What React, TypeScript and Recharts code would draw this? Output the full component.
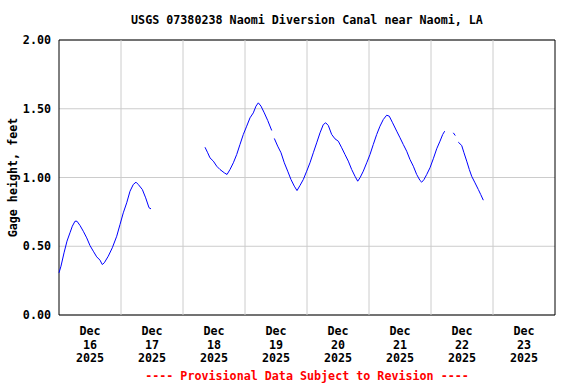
import { LineChart, Line, XAxis, YAxis, CartesianGrid, ReferenceLine, ReferenceArea } from 'recharts'

const FONT = '"DejaVu Sans Mono", monospace'

// x = days since Dec 16 2025 00:00
const dayTicks = [0.5, 1.5, 2.5, 3.5, 4.5, 5.5, 6.5, 7.5]
const dayLabels = ['16', '17', '18', '19', '20', '21', '22', '23']
const midnights = [1, 2, 3, 4, 5, 6, 7]
const heightTicks = [0, 0.5, 1, 1.5, 2]

const days1 = [0, 0.032, 0.081, 0.129, 0.177, 0.215, 0.258, 0.29, 0.339, 0.392, 0.447, 0.5, 0.553, 0.608, 0.661, 0.698, 0.731, 0.795, 0.86, 0.931, 0.984, 1.037, 1.092, 1.145, 1.198, 1.242, 1.279, 1.344, 1.398, 1.452, 1.484]
const gage1 = [0.307, 0.355, 0.452, 0.537, 0.598, 0.646, 0.682, 0.682, 0.651, 0.609, 0.561, 0.505, 0.464, 0.423, 0.399, 0.367, 0.38, 0.428, 0.489, 0.573, 0.658, 0.743, 0.816, 0.9, 0.949, 0.966, 0.949, 0.913, 0.852, 0.78, 0.772]

const days2 = [2.355, 2.398, 2.435, 2.489, 2.544, 2.597, 2.666, 2.71, 2.758, 2.812, 2.866, 2.919, 2.973, 3.027, 3.081, 3.134, 3.177, 3.215, 3.258, 3.311, 3.366, 3.431]
const gage2 = [1.22, 1.18, 1.143, 1.119, 1.082, 1.058, 1.034, 1.022, 1.058, 1.107, 1.167, 1.24, 1.313, 1.373, 1.434, 1.47, 1.519, 1.543, 1.519, 1.47, 1.415, 1.342]

const days3 = [3.473, 3.527, 3.581, 3.634, 3.689, 3.742, 3.795, 3.839, 3.887, 3.94, 3.995, 4.048, 4.102, 4.156, 4.21, 4.263, 4.302, 4.344, 4.398, 4.452, 4.505, 4.56, 4.613, 4.666, 4.721, 4.774, 4.818, 4.855, 4.908, 4.963, 5.016, 5.069, 5.124, 5.177, 5.231, 5.285, 5.327, 5.376, 5.447, 5.5, 5.553, 5.608, 5.661, 5.715, 5.769, 5.823, 5.85, 5.887, 5.931, 5.984, 6.037, 6.092, 6.145, 6.189, 6.221]
const gage3 = [1.284, 1.228, 1.18, 1.107, 1.046, 0.985, 0.937, 0.905, 0.942, 0.985, 1.046, 1.107, 1.18, 1.252, 1.325, 1.385, 1.398, 1.378, 1.313, 1.281, 1.264, 1.216, 1.167, 1.119, 1.058, 1.009, 0.973, 0.998, 1.046, 1.107, 1.167, 1.24, 1.313, 1.373, 1.422, 1.453, 1.446, 1.402, 1.337, 1.289, 1.24, 1.191, 1.131, 1.082, 1.022, 0.978, 0.966, 0.985, 1.022, 1.071, 1.136, 1.209, 1.264, 1.313, 1.337]

const days4 = [6.36, 6.392]
const gage4 = [1.325, 1.305]

const days5 = [6.44, 6.495, 6.532, 6.576, 6.618, 6.656, 6.71, 6.763, 6.802, 6.844]
const gage5 = [1.257, 1.233, 1.18, 1.119, 1.058, 1.009, 0.961, 0.913, 0.876, 0.835]

// join segments, with a null point in each gap so the line breaks
const segments: [number[], number[]][] = [[days1, gage1], [days2, gage2], [days3, gage3], [days4, gage4], [days5, gage5]]
const data: { t: number; h: number | null }[] = []
segments.forEach(([d, g], i) => {
  if (i > 0) data.push({ t: (data[data.length - 1].t + d[0]) / 2, h: null })
  d.forEach((t, j) => data.push({ t, h: g[j] }))
})

function DayTick(props: any) {
  const { x, y, payload, index } = props
  return (
    <text x={x} y={y} textAnchor="middle" fontFamily={FONT} fontWeight="bold" fontSize={11.7} fill="#000">
      <tspan x={x} dy={18}>Dec</tspan>
      <tspan x={x} dy={13.7}>{dayLabels[index] ?? String(payload.value)}</tspan>
      <tspan x={x} dy={13.7}>2025</tspan>
    </text>
  )
}

function AxisTitle(props: any) {
  const { viewBox } = props
  const cy = viewBox.y + viewBox.height / 2
  return (
    <text x={17} y={cy} transform={`rotate(-90, 17, ${cy})`} textAnchor="middle"
      fontFamily={FONT} fontWeight="bold" fontSize={11.7} fill="#000">
      Gage height, feet
    </text>
  )
}

const textStyle = {
  position: 'absolute' as const,
  left: 59,
  width: 496,
  textAlign: 'center' as const,
  fontFamily: FONT,
  fontWeight: 'bold',
  fontSize: 11.7,
  lineHeight: '14px',
  whiteSpace: 'nowrap' as const,
}

export default function App() {
  return (
    <div style={{ position: 'absolute', left: 0, top: 0, width: 576, height: 384, background: '#fff' }}>
      <div style={{ ...textStyle, top: 13 }}>USGS 07380238 Naomi Diversion Canal near Naomi, LA</div>
      <LineChart width={576} height={384} data={data} margin={{ top: 40, right: 21, bottom: 0, left: 0 }}>
        <CartesianGrid vertical={false} stroke="#cccccc" strokeDasharray="" />
        {midnights.map(m => (
          <ReferenceLine key={m} x={m} stroke="#cccccc" />
        ))}
        <XAxis dataKey="t" type="number" domain={[0, 8]} ticks={dayTicks} interval={0}
          height={69} tickLine={false} axisLine={false} tickSize={0} tick={<DayTick />} />
        <YAxis type="number" domain={[0, 2]} ticks={heightTicks} width={59} tickLine={false} axisLine={false}
          tickSize={0} tickMargin={8} tickFormatter={(v: number) => v.toFixed(2)}
          tick={{ fontFamily: FONT, fontWeight: 'bold', fontSize: 11.7, fill: '#000' }}
          label={<AxisTitle />} />
        <ReferenceArea x1={0} x2={8} y1={0} y2={2} fill="none" stroke="#000" strokeWidth={1} />
        <Line type="linear" dataKey="h" stroke="#0000ff" strokeWidth={1} dot={false} connectNulls={false}
          isAnimationActive={false} />
      </LineChart>
      <div style={{ ...textStyle, top: 369, color: '#ff0000' }}>---- Provisional Data Subject to Revision ----</div>
    </div>
  )
}
